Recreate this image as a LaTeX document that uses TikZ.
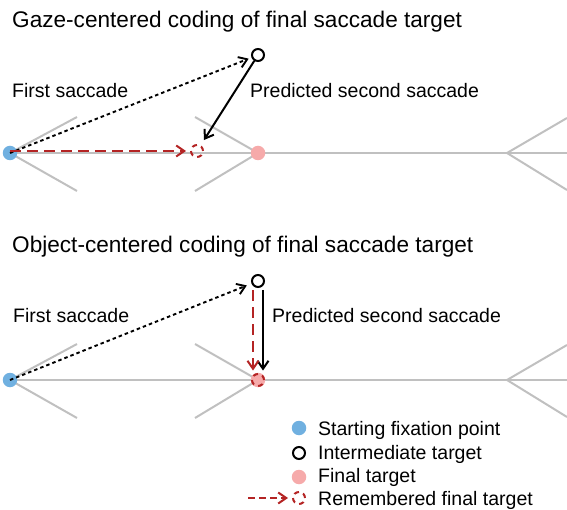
\documentclass[tikz,border=0pt]{standalone}
\usepackage{fontspec}
\setmainfont{Liberation Sans}
\usetikzlibrary{arrows.meta}
\definecolor{fixblue}{RGB}{112,176,224}
\definecolor{finalpink}{RGB}{246,170,170}
\definecolor{memred}{RGB}{180,36,36}
\definecolor{linegray}{RGB}{192,192,192}
\begin{document}
\begin{tikzpicture}[x=1pt,y=-1pt]
        \tikzstyle{every node}=[inner sep=0pt]
        \tikzstyle{title}=[anchor=base west,font=\fontsize{22.6}{26}\selectfont]
        \tikzstyle{label}=[anchor=base west,font=\fontsize{19.5}{23}\selectfont]
        \tikzstyle{fin}=[linegray,line width=2pt]
        \tikzstyle{fixdot}=[circle,fill=fixblue,minimum size=14.5pt]
        \tikzstyle{finaldot}=[circle,fill=finalpink,minimum size=14.5pt]
        \tikzstyle{interdot}=[circle,draw=black,line width=2pt,fill=white,minimum size=12pt]
        \tikzstyle{memdot}=[circle,draw=memred,line width=2pt,dash pattern=on 5pt off 4.4pt,minimum size=12pt]
        \tikzstyle{firstsac}=[black,line width=1.9pt,dash pattern=on 3.5pt off 3pt,-{Straight Barb[length=8pt,width=11pt]}]
        \tikzstyle{secondsac}=[black,line width=2pt,-{Straight Barb[length=8pt,width=11pt]}]
        \tikzstyle{memsac}=[memred,line width=2pt,dash pattern=on 11pt off 6pt,-{Straight Barb[length=8pt,width=11pt]}]
        \useasboundingbox (0,0) rectangle (567,510);
        % gaze-centered
        \node[title] (title1) at (12,28) {Gaze-centered coding of final saccade target};
        \draw[fin] (10,153) -- (567,153);
        \draw[fin] (77,117) -- (10,153) -- (77,191);
        \draw[fin] (195,117) -- (258,153) -- (195,191);
        \draw[fin] (567,118) -- (507,153) -- (567,190);
        \node[fixdot] (start1) at (10,153) {};
        \node[finaldot] (final1) at (258,153) {};
        \node[interdot] (inter1) at (258,55) {};
        \node[memdot] (remem1) at (197,151) {};
        \draw[firstsac,shorten >=3pt] (start1.center) -- (inter1);
        \draw[secondsac,shorten >=6pt] (inter1) -- (remem1);
        \draw[memsac,shorten >=4pt] ([yshift=2pt]start1.center) -- (remem1);
        \node[label] (first1) at (12,98) {First saccade};
        \node[label] (pred1) at (250,98) {Predicted second saccade};
        % object-centered
        \node[title] (title2) at (12,253) {Object-centered coding of final saccade target};
        \draw[fin] (10,380) -- (567,380);
        \draw[fin] (77,344) -- (10,380) -- (77,418);
        \draw[fin] (195,344) -- (258,380) -- (195,418);
        \draw[fin] (567,345) -- (507,380) -- (567,417);
        \node[fixdot] (start2) at (10,380) {};
        \node[finaldot] (final2) at (258,380) {};
        \node[interdot] (inter2) at (258,281) {};
        \draw[firstsac,shorten >=5pt] (start2.center) -- (inter2);
        \draw[secondsac] ([xshift=5pt,yshift=-2pt]inter2.south) -- ([xshift=5pt,yshift=2pt]final2.north);
        \draw[memsac] ([xshift=-5pt,yshift=-2pt]inter2.south) -- ([xshift=-5pt,yshift=2pt]final2.north);
        \node[memdot] (remem2) at (258,380) {};
        \node[label] (first2) at (13,323) {First saccade};
        \node[label] (pred2) at (272,323) {Predicted second saccade};
        % legend
        \node[fixdot] (keyfix) at (299,428) {};
        \node[interdot] (keyinter) at (299,453) {};
        \node[finaldot] (keyfinal) at (299,477) {};
        \node[memdot] (keymem) at (299,498) {};
        \coordinate (keytail) at (248,498);
        \draw[memsac,dash pattern=on 7pt off 4pt,shorten >=4pt] (keytail) -- (keymem);
        \node[label] (txtfix) at (318,435) {Starting fixation point};
        \node[label] (txtinter) at (318,459) {Intermediate target};
        \node[label] (txtfinal) at (318,482) {Final target};
        \node[label] (txtmem) at (318,505) {Remembered final target};
      \end{tikzpicture}
\end{document}
